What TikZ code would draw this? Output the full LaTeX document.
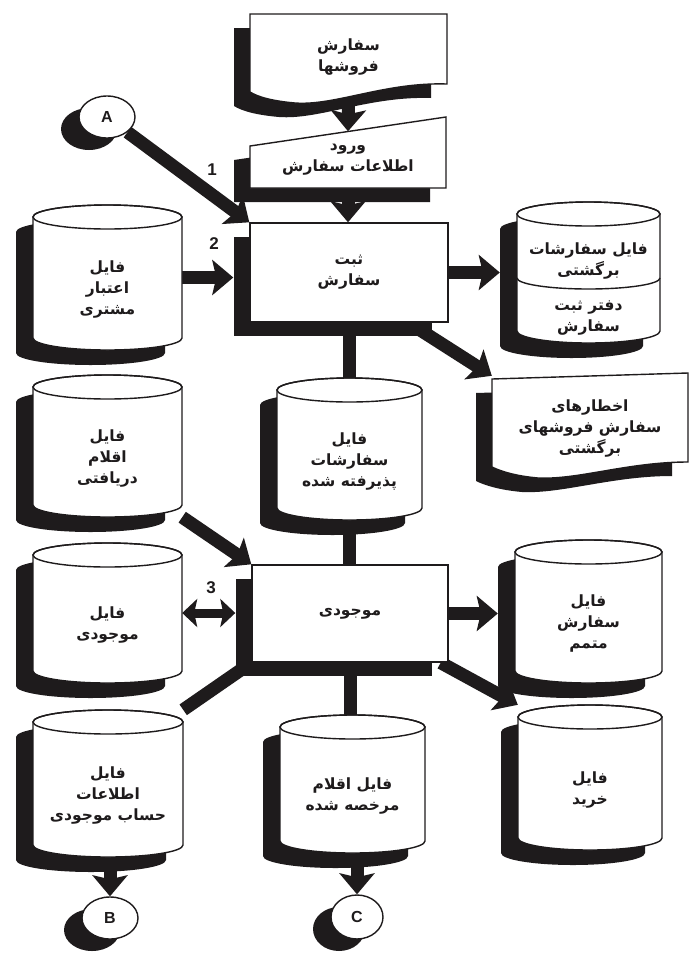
\documentclass[tikz,border=0pt]{standalone}
\usepackage{fontspec}
\usetikzlibrary{arrows.meta,shapes.geometric,shadows,calc}
\TeXXeTstate=1
\newfontfamily\arabicfont[Script=Arabic]{DejaVu Sans}
\newfontfamily\latinfont{Liberation Sans}
\newcommand\rtl[1]{\beginR #1\endR}
\pgfdeclarelayer{bg}
\pgfsetlayers{bg,main}
\definecolor{ink}{RGB}{30,27,28}

\tikzset{
  flow/.style={draw=ink, line width=13pt, -{Stealth[length=21pt,width=35pt,inset=4pt]}},
  link/.style={draw=ink, line width=13pt},
  twoway/.style={draw=ink, line width=9pt,
    {Stealth[length=15pt,width=28pt,inset=3pt]}-{Stealth[length=15pt,width=28pt,inset=3pt]}},
  outline/.style={draw=ink, line width=1.4pt, fill=white},
  shade/.style={fill=ink},
  fatext/.style={font=\arabicfont\bfseries\fontsize{15.5}{21}\selectfont, align=center, text=ink, inner sep=0pt},
  area/.style={inner sep=0pt},
  numlabel/.style={font=\latinfont\bfseries\fontsize{17}{17}\selectfont, text=ink},
  procbox/.style={rectangle, outline, fatext,
    general shadow={fill=ink, shadow xshift=-16pt, shadow yshift=-14pt}},
  terminal/.style={ellipse, outline, minimum width=56pt, minimum height=42pt, inner sep=0pt,
    font=\latinfont\bfseries\fontsize{16}{16}\selectfont, text=ink,
    general shadow={fill=ink, shadow xshift=-18pt, shadow yshift=-12pt}},
}

% a disk file: name, left, right, top, bottom, text
\newcommand\drumfile[6]{%
  \pgfmathsetmacro\drumrx{(#3-#2)/2}%
  \pgfmathsetmacro\drumcx{(#2+#3)/2}%
  \pgfmathsetmacro\drumtop{#4+12}%
  \pgfmathsetmacro\drumbot{#5-12}%
  \pgfmathsetmacro\drumcy{(#4+#5)/2}%
  \pgfmathsetmacro\drumty{(#4+24+#5)/2}%
  \fill[shade, shift={(-17,15)}] (#2,\drumtop) -- (#2,\drumbot)
    arc[start angle=180,end angle=360,x radius=\drumrx pt,y radius=12pt]
    -- (#3,\drumtop) arc[start angle=0,end angle=180,x radius=\drumrx pt,y radius=12pt] -- cycle;
  \filldraw[outline] (#2,\drumtop) -- (#2,\drumbot)
    arc[start angle=180,end angle=360,x radius=\drumrx pt,y radius=12pt]
    -- (#3,\drumtop) arc[start angle=0,end angle=180,x radius=\drumrx pt,y radius=12pt] -- cycle;
  \draw[draw=ink, line width=1.4pt] (\drumcx,\drumtop) ellipse[x radius=\drumrx pt, y radius=12pt];
  \node[area, minimum width={(#3-#2)*1pt}, minimum height={(#5-#4)*1pt}] (#1) at (\drumcx,\drumcy) {};
  \node[fatext] (#1-text) at (\drumcx,\drumty) {#6};
}

\begin{document}
\begin{tikzpicture}[x=1pt, y=-1pt]
\useasboundingbox (0,0) rectangle (691,959);

% sales orders document
\fill[shade, shift={(-16,14)}] (250,14) -- (447,14) -- (447,84)
  .. controls (385,82) and (335,106) .. (295,103)
  .. controls (272,101) and (258,97) .. (250,92) -- cycle;
\filldraw[outline] (250,14) -- (447,14) -- (447,84)
  .. controls (385,82) and (335,106) .. (295,103)
  .. controls (272,101) and (258,97) .. (250,92) -- cycle;
\node[area, fatext, minimum width=197pt, minimum height=86pt] (orders) at (348.5,57)
  {\rtl{سفارش}\\\rtl{فروشها}};

% manual entry
\fill[shade, shift={(-16,14)}] (250,146) -- (446,117) -- (446,188) -- (250,188) -- cycle;
\filldraw[outline] (250,146) -- (446,117) -- (446,188) -- (250,188) -- cycle;
\node[area, fatext, minimum width=196pt, minimum height=57pt] (entry) at (348,160)
  {\rtl{ورود}\\\rtl{اطلاعات سفارش}};

% order registration
\node[procbox, minimum width=198pt, minimum height=99pt] (register) at (349,272.5)
  {\rtl{ثبت}\\\rtl{سفارش}};

% files around registration
\drumfile{credit}{33}{182}{205}{350}{\rtl{فایل}\\\rtl{اعتبار}\\\rtl{مشتری}}
\drumfile{returned}{517}{660}{202}{343}{}
\draw[draw=ink, line width=1.4pt] (517,278) arc[start angle=180,end angle=360,x radius=71.5pt,y radius=11pt];
\node[fatext] (returned-top) at (588.5,261) {\rtl{فایل سفارشات}\\\rtl{برگشتی}};
\node[fatext] (returned-log) at (588.5,318) {\rtl{دفتر ثبت}\\\rtl{سفارش}};

% warnings document
\fill[shade, shift={(-16,14)}] (492,379) -- (688,373) -- (688,462)
  .. controls (628,462) and (578,480) .. (538,478)
  .. controls (515,476) and (500,471) .. (492,467) -- cycle;
\filldraw[outline] (492,379) -- (688,373) -- (688,462)
  .. controls (628,462) and (578,480) .. (538,478)
  .. controls (515,476) and (500,471) .. (492,467) -- cycle;
\node[area, fatext, minimum width=196pt, minimum height=104pt] (warnings) at (590,428)
  {\rtl{اخطارهای}\\\rtl{سفارش فروشهای}\\\rtl{برگشتی}};

\drumfile{received}{33}{182}{375}{517}{\rtl{فایل}\\\rtl{اقلام}\\\rtl{دریافتی}}
\drumfile{accepted}{277}{422}{378}{520}{\rtl{فایل}\\\rtl{سفارشات}\\\rtl{پذیرفته شده}}
\drumfile{invfile}{33}{182}{543}{683}{\rtl{فایل}\\\rtl{موجودی}}

% inventory process
\node[procbox, minimum width=196pt, minimum height=97pt] (inventory) at (350,613.5)
  {\rtl{موجودی}};

\drumfile{backorder}{515}{662}{540}{683}{\rtl{فایل}\\\rtl{سفارش}\\\rtl{متمم}}
\drumfile{account}{33}{183}{710}{857}{\rtl{فایل}\\\rtl{اطلاعات}\\\rtl{حساب موجودی}}
\drumfile{released}{280}{425}{715}{853}{\rtl{فایل اقلام}\\\rtl{مرخصه شده}}
\drumfile{purchase}{518}{662}{705}{850}{\rtl{فایل}\\\rtl{خرید}}

% off-page connectors
\node[terminal] (A) at (107,117) {A};
\node[terminal] (B) at (110,918) {B};
\node[terminal, minimum width=52pt, minimum height=44pt] (C) at (357,917) {C};

% step numbers
\node[numlabel] (n1) at (212,170) {1};
\node[numlabel] (n2) at (214,244) {2};
\node[numlabel] (n3) at (211,588) {3};

% connectors, kept beneath the shapes
\begin{pgfonlayer}{bg}
  \draw[flow] (orders.south) -- (entry.north);
  \draw[flow] (entry.south) -- (entry.south |- register.north);
  \draw[flow] (A) -- (register.north west);
  \draw[flow, shorten >=16pt] (credit.east) -- (credit.east -| register.west);
  \draw[flow, shorten >=17pt] (register.east) -- (register.east -| returned.west);
  \draw[flow] ([xshift=-40pt]register.south east) -- (warnings.north west);
  \draw[link] (register.south) -- (register.south |- accepted.north);
  \draw[link] (accepted.south) -- (accepted.south |- inventory.north);
  \draw[flow] (received.south east) -- (inventory.north west);
  \draw[twoway, shorten >=16pt] (invfile.east) -- (invfile.east -| inventory.west);
  \draw[link] (inventory.south west) -- (account.north east);
  \draw[link] (inventory.south) -- (inventory.south |- released.north);
  \draw[flow, shorten >=17pt] (inventory.east) -- (inventory.east -| backorder.west);
  \draw[flow] ([xshift=-8pt]inventory.south east) -- (purchase.north west);
  \draw[flow] (account.south -| B.north) -- (B.north);
  \draw[flow] (released.south -| C.north) -- (C.north);
\end{pgfonlayer}
\end{tikzpicture}
\end{document}
